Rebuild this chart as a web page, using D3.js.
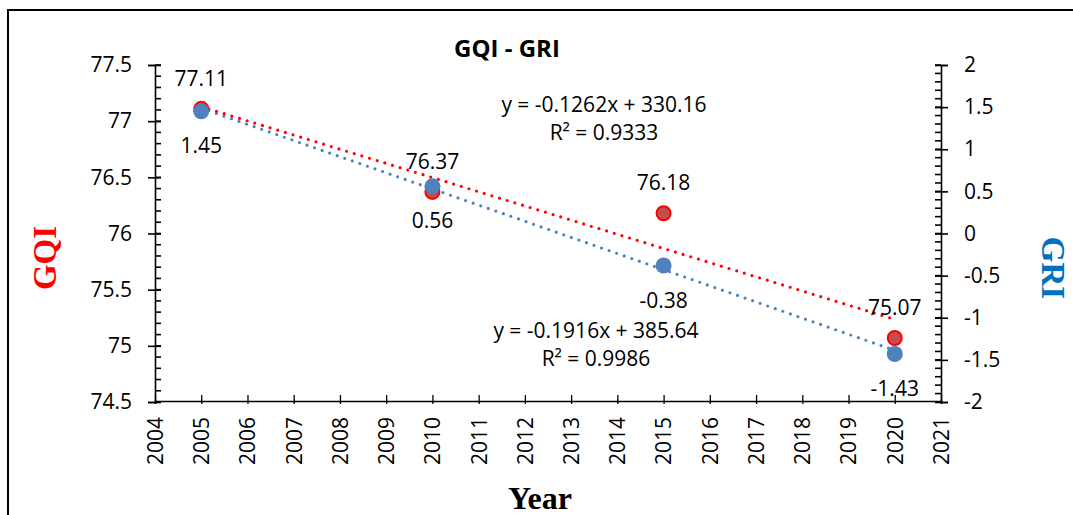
<!DOCTYPE html>
<html>
<head>
<meta charset="utf-8">
<script src="https://cdn.jsdelivr.net/npm/d3@7"></script>
<style>
  body { margin: 0; background: #fff; }
  svg text { font-family: "Open Sans", sans-serif; fill: #000; }
  .axis-title { font-family: "Liberation Serif", serif !important; font-weight: bold; }
</style>
</head>
<body>
<svg id="chart" width="1073" height="515"></svg>
<script>
// Chart data
const years = [2005, 2010, 2015, 2020];
const gqiValues = [77.11, 76.37, 76.18, 75.07];
const griValues = [1.45, 0.56, -0.38, -1.43];
const xTicks = d3.range(2004, 2022);
const gqiTicks = [74.5, 75, 75.5, 76, 76.5, 77, 77.5];
const griTicks = [-2, -1.5, -1, -0.5, 0, 0.5, 1, 1.5, 2];

function drawChart() {
  const svg = d3.select("#chart");
  const plot = { left: 155, right: 941, top: 65, bottom: 402 };

  // 1. Frame round the chart (right and bottom edges fall outside the window)
  svg.append("rect")
    .attr("x", 8).attr("y", 10)
    .attr("width", 1100).attr("height", 540)
    .attr("fill", "none").attr("stroke", "#000").attr("stroke-width", 2);

  // 2. Scales
  const x = d3.scaleLinear().domain([2004, 2021]).range([plot.left, plot.right]);
  const yL = d3.scaleLinear().domain([74.5, 77.5]).range([plot.bottom, plot.top]);
  const yR = d3.scaleLinear().domain([-2, 2]).range([plot.bottom, plot.top]);

  // 3. Axes - minor ticks first (inside), then the major ones which cross the line
  const minorL = d3.range(745, 776).map(v => v / 10);
  const minorR = d3.range(-20, 21).map(v => v / 10);

  const leftG = svg.append("g").attr("transform", `translate(${plot.left},0)`);
  leftG.selectAll(".minor").data(minorL).enter().append("line")
    .attr("x1", 0).attr("x2", 6)
    .attr("y1", d => yL(d)).attr("y2", d => yL(d));
  leftG.append("g")
    .call(d3.axisLeft(yL).tickValues(gqiTicks).tickSize(7).tickPadding(16).tickFormat(d3.format("")))
    .call(g => g.selectAll(".tick line").attr("x2", -7).attr("x1", 6))
    .call(g => g.selectAll("text").style("font-size", "21px"));

  const rightG = svg.append("g").attr("transform", `translate(${plot.right},0)`);
  rightG.selectAll(".minor").data(minorR).enter().append("line")
    .attr("x1", -6).attr("x2", 0)
    .attr("y1", d => yR(d)).attr("y2", d => yR(d));
  rightG.append("g")
    .call(d3.axisRight(yR).tickValues(griTicks).tickSize(7).tickPadding(16).tickFormat(d3.format("")))
    .call(g => g.selectAll(".tick line").attr("x1", -6).attr("x2", 7))
    .call(g => g.selectAll("text").style("font-size", "21px").text(d => d < 0 ? "-" + Math.abs(d) : d));
  svg.selectAll("line").attr("stroke", "#000").attr("stroke-width", 1.6);
  svg.selectAll(".domain").attr("stroke", "#000").attr("stroke-width", 1.6);

  const bottomG = svg.append("g").attr("transform", `translate(0,${plot.bottom - 1})`);
  bottomG.call(d3.axisBottom(x).tickValues(xTicks).tickSize(3).tickFormat(d3.format("d")))
    .call(g => g.selectAll(".tick line").attr("y1", -6).attr("y2", 3).attr("stroke", "#000").attr("stroke-width", 1.3))
    .call(g => g.select(".domain").attr("stroke", "#000").attr("stroke-width", 1.5))
    .call(g => g.selectAll("text")
      .style("font-size", "21px")
      .attr("transform", "rotate(-90)")
      .attr("text-anchor", "end")
      .attr("dy", "0.35em")
      .attr("y", 0)
      .attr("x", -16));
  svg.selectAll(".tick text").attr("fill", "#000");

  // 4. Trend lines from least squares on each series
  function fit(ys) {
    const mx = d3.mean(years), my = d3.mean(ys);
    const sxy = d3.sum(years, (d, i) => (d - mx) * (ys[i] - my));
    const sxx = d3.sum(years, d => (d - mx) ** 2);
    const slope = sxy / sxx;
    return { slope, intercept: my - slope * mx };
  }
  const trends = [
    { f: fit(gqiValues), y: yL, color: "#FF0000" },
    { f: fit(griValues), y: yR, color: "#4F81BD" }
  ];
  const ends = d3.extent(years);
  const line = d3.line();
  trends.slice().reverse().forEach(t => {
    svg.append("path")
      .attr("d", line(ends.map(yr => [x(yr), t.y(t.f.slope * yr + t.f.intercept)])))
      .attr("fill", "none")
      .attr("stroke", t.color)
      .attr("stroke-width", 3.2)
      .attr("stroke-linecap", "round")
      .attr("stroke-dasharray", "0 8");
  });

  // 5. Points: GQI underneath, GRI on top
  svg.selectAll(".gqi").data(years).enter().append("circle")
    .attr("cx", d => x(d)).attr("cy", (d, i) => yL(gqiValues[i]))
    .attr("r", 7).attr("fill", "#C0504D").attr("stroke", "#FF0000").attr("stroke-width", 2);
  svg.selectAll(".gri").data(years).enter().append("circle")
    .attr("cx", d => x(d)).attr("cy", (d, i) => yR(griValues[i]))
    .attr("r", 8).attr("fill", "#4F81BD");

  // 6. Data labels
  svg.selectAll(".gqi-label").data(years).enter().append("text")
    .attr("x", d => x(d)).attr("y", (d, i) => yL(gqiValues[i]) - 31)
    .attr("text-anchor", "middle").attr("dominant-baseline", "central")
    .style("font-size", "21px")
    .text((d, i) => gqiValues[i].toFixed(2));
  svg.selectAll(".gri-label").data(years).enter().append("text")
    .attr("x", d => x(d)).attr("y", (d, i) => yR(griValues[i]) + 34)
    .attr("text-anchor", "middle").attr("dominant-baseline", "central")
    .style("font-size", "21px")
    .text((d, i) => griValues[i].toFixed(2));

  // 7. Trend equations
  const eqs = [
    { f: trends[0].f, r2: 0.9333, x: 604, y: 104 },
    { f: trends[1].f, r2: 0.9986, x: 596, y: 330 }
  ];
  eqs.forEach(e => {
    const t = svg.append("text").attr("text-anchor", "middle").style("font-size", "21px");
    t.append("tspan").attr("x", e.x).attr("y", e.y).attr("dominant-baseline", "central")
      .text(`y = ${e.f.slope.toFixed(4)}x + ${e.f.intercept.toFixed(2)}`);
    t.append("tspan").attr("x", e.x).attr("y", e.y + 28).attr("dominant-baseline", "central")
      .text(`R² = ${e.r2}`);
  });

  // 8. Titles
  svg.append("text").attr("x", 507).attr("y", 57).attr("text-anchor", "middle")
    .style("font-size", "24px").style("font-weight", "bold").text("GQI - GRI");
  svg.append("text").attr("class", "axis-title")
    .attr("transform", "translate(56,258) rotate(-90)")
    .attr("text-anchor", "middle").style("font-size", "33px")
    .style("fill", "#FF0000").text("GQI");
  svg.append("text").attr("class", "axis-title")
    .attr("transform", "translate(1042,268) rotate(90)")
    .attr("text-anchor", "middle").style("font-size", "33px")
    .style("fill", "#0070C0").text("GRI");
  svg.append("text").attr("class", "axis-title")
    .attr("x", 540).attr("y", 509).attr("text-anchor", "middle")
    .style("font-size", "32px").text("Year");
}

document.addEventListener("DOMContentLoaded", drawChart);
</script>
</body>
</html>
